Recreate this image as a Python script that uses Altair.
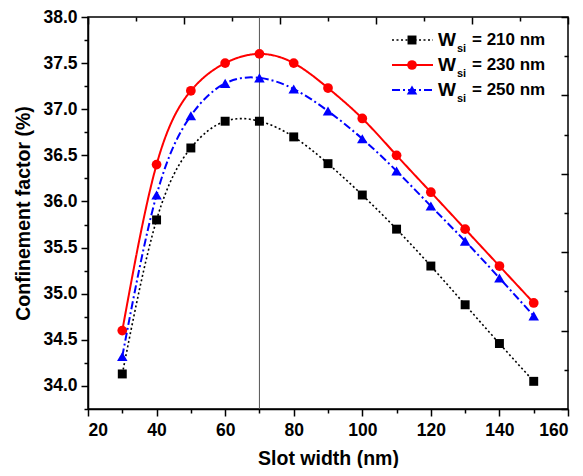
import altair as alt
import pandas as pd

# ---- data ----
slot_nm = [30, 40, 50, 60, 70, 80, 90, 100, 110, 120, 130, 140, 150]
cf_210 = [34.13, 35.80, 36.58, 36.87, 36.87, 36.70, 36.41, 36.07, 35.70, 35.30, 34.88, 34.46, 34.05]
cf_230 = [34.60, 36.40, 37.20, 37.50, 37.60, 37.50, 37.23, 36.90, 36.50, 36.10, 35.70, 35.30, 34.90]
cf_250 = [34.32, 36.07, 36.93, 37.28, 37.34, 37.22, 36.98, 36.68, 36.33, 35.95, 35.57, 35.17, 34.76]
series_names = ["210", "230", "250"]
marker_line_x = [70]
x_ticks = list(range(20, 161, 10))
y_ticks = [33.75 + 0.25 * i for i in range(18)]
# opposite (top / right) frame axes: 10 equal divisions
top_ticks = [20 + 14 * k for k in range(11)]
right_ticks = [33.75 + 0.425 * k for k in range(11)]

FONT = "Liberation Sans"
W, H = 480, 392

xs = alt.Scale(domain=[20, 160], nice=False, zero=False)
ys = alt.Scale(domain=[33.75, 38.0], nice=False, zero=False)

x_axis = alt.Axis(
    orient="bottom",
    values=x_ticks,
    labelExpr="datum.value % 20 === 0 ? datum.label : ''",
    tickSize={"condition": {"test": "datum.value % 20 === 0", "value": 7}, "value": 4},
    tickColor="black", tickWidth=1.5, domainColor="black", domainWidth=1.5,
    labelFont=FONT, labelFontSize=17.5, labelFontWeight="bold", labelColor="black",
    labelPadding=5, grid=False,
    title="Slot width (nm)", titleFont=FONT, titleFontSize=19.5, titleFontWeight="bold",
    titleColor="black", titlePadding=11,
)
y_axis = alt.Axis(
    orient="left",
    values=y_ticks,
    format=".1f",
    labelExpr="abs(datum.value*2 - round(datum.value*2)) < 0.001 ? datum.label : ''",
    tickSize={"condition": {"test": "abs(datum.value*2 - round(datum.value*2)) < 0.001", "value": 7}, "value": 4},
    tickColor="black", tickWidth=1.5, domainColor="black", domainWidth=1.5,
    labelFont=FONT, labelFontSize=17.5, labelFontWeight="bold", labelColor="black",
    labelPadding=4, grid=False,
    title="Confinement factor (%)", titleFont=FONT, titleFontSize=19.5, titleFontWeight="bold",
    titleColor="black", titlePadding=9,
)
top_axis = alt.Axis(
    orient="top", offset=-7, values=top_ticks, labels=False, title=None, domain=False,
    grid=False, tickColor="black", tickWidth=1.5, tickSize=7,
    tickDash={"condition": {"test": "round((datum.value - 20) / 14) % 2 === 0", "value": [7, 0]},
              "value": [0, 3, 4, 0]},
)
right_axis = alt.Axis(
    orient="right", offset=-7, values=right_ticks, labels=False, title=None, domain=False,
    grid=False, tickColor="black", tickWidth=1.5, tickSize=7,
    tickDash={"condition": {"test": "round((datum.value - 33.75) / 0.425) % 2 === 0", "value": [7, 0]},
              "value": [0, 3, 4, 0]},
)

rows = []
for name, vals in zip(series_names, [cf_210, cf_230, cf_250]):
    for s, v in zip(slot_nm, vals):
        rows.append({"slot": s, "cf": v, "series": name})
df = pd.DataFrame(rows)

styles = {
    "210": dict(color="black", dash=[2, 2.5], width=1.6, shape="square", size=80),
    "230": dict(color="#ff0000", dash=[1, 0], width=2, shape="circle", size=95),
    "250": dict(color="#0000ff", dash=[8, 3, 2, 3], width=2, shape="triangle-up", size=110),
}

layers = []
# invisible layer carrying the main axes
layers.append(
    alt.Chart(df).mark_point(opacity=0)
    .encode(x=alt.X("slot:Q", scale=xs, axis=x_axis),
            y=alt.Y("cf:Q", scale=ys, axis=y_axis))
)
# invisible layer carrying the opposite frame axes
layers.append(
    alt.Chart(df).mark_point(opacity=0)
    .encode(x=alt.X("slot:Q", scale=xs, axis=top_axis),
            y=alt.Y("cf:Q", scale=ys, axis=right_axis))
)
# vertical marker line
layers.append(
    alt.Chart(pd.DataFrame({"x": marker_line_x}))
    .mark_rule(color="#555555", strokeWidth=1)
    .encode(x=alt.X("x:Q", scale=xs, axis=None))
)
for name in series_names:
    st = styles[name]
    sub = df[df.series == name]
    base = alt.Chart(sub).encode(
        x=alt.X("slot:Q", scale=xs, axis=None),
        y=alt.Y("cf:Q", scale=ys, axis=None),
    )
    layers.append(base.mark_line(color=st["color"], strokeDash=st["dash"],
                                 strokeWidth=st["width"], interpolate="natural"))
    layers.append(base.mark_point(shape=st["shape"], size=st["size"], filled=True,
                                  color=st["color"], opacity=1))

# manual legend (subscript text)
one = alt.Data(values=[{}])
for i, name in enumerate(series_names):
    st = styles[name]
    yy = 23 + 25 * i
    layers.append(alt.Chart(one).mark_rule(color=st["color"], strokeDash=st["dash"],
                                            strokeWidth=st["width"])
                  .encode(x=alt.value(304), x2=alt.value(345), y=alt.value(yy)))
    layers.append(alt.Chart(one).mark_point(shape=st["shape"], size=st["size"], filled=True,
                                             color=st["color"], opacity=1)
                  .encode(x=alt.value(324), y=alt.value(yy)))
    layers.append(alt.Chart(one).mark_text(text="W", font=FONT, fontSize=19, fontWeight="bold",
                                            align="left", baseline="middle", color="black")
                  .encode(x=alt.value(350), y=alt.value(yy)))
    layers.append(alt.Chart(one).mark_text(text="si", font=FONT, fontSize=11, fontWeight="bold",
                                            align="left", baseline="middle", color="black")
                  .encode(x=alt.value(369), y=alt.value(yy + 9)))
    layers.append(alt.Chart(one).mark_text(text="= " + name + " nm", font=FONT, fontSize=17,
                                            fontWeight="bold", align="left", baseline="middle",
                                            color="black")
                  .encode(x=alt.value(384), y=alt.value(yy)))

chart = (
    alt.layer(*layers)
    .properties(width=W, height=H, autosize=alt.AutoSizeParams(type="none"),
                padding={"left": 80, "top": 9, "right": 7, "bottom": 59},
                background="white")
    .configure_view(stroke="black", strokeWidth=1.5)
)

chart.save("out.html", embed_options={"renderer": "svg", "actions": False})
